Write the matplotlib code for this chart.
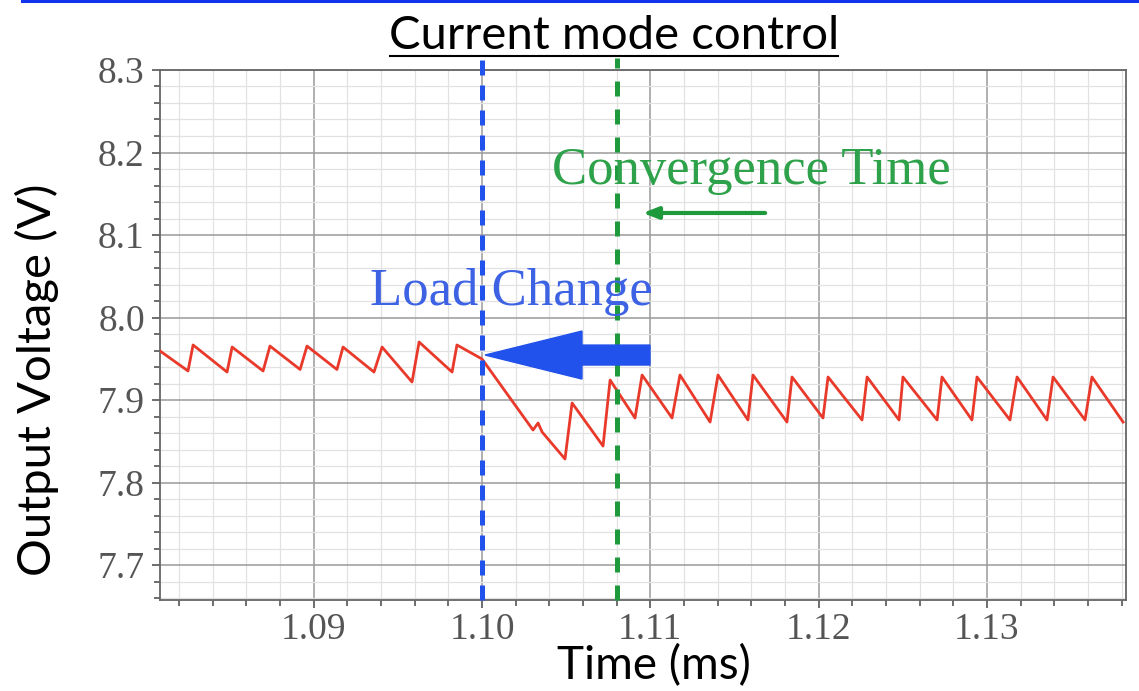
import matplotlib
matplotlib.use("Agg")
import matplotlib.pyplot as plt
from matplotlib.patches import FancyArrow
from matplotlib.lines import Line2D
from matplotlib.ticker import MultipleLocator

# output voltage waveform (time in ms, volts)
time_ms = [1.08087, 1.08253, 1.08283, 1.08485, 1.08515, 1.08699, 1.08740,
           1.08919, 1.08960, 1.09138, 1.09174, 1.09358, 1.09406, 1.09584,
           1.09626, 1.09822, 1.09851, 1.10000, 1.10303, 1.10333, 1.10357,
           1.10493, 1.10535, 1.10719, 1.10761, 1.10909, 1.10951, 1.11129,
           1.11176, 1.11355, 1.11402, 1.11580, 1.11610, 1.11812, 1.11842,
           1.12026, 1.12056, 1.12258, 1.12288, 1.12478, 1.12501, 1.12704,
           1.12733, 1.12911, 1.12941, 1.13137, 1.13179, 1.13357, 1.13393,
           1.13583, 1.13624, 1.13809]
volt = [7.9594, 7.9352, 7.9667, 7.9339, 7.9642, 7.9352, 7.9654,
        7.9370, 7.9654, 7.9370, 7.9642, 7.9339, 7.9642, 7.9218,
        7.9703, 7.9339, 7.9667, 7.9497, 7.8636, 7.8721, 7.8612,
        7.8285, 7.8964, 7.8442, 7.9242, 7.8782, 7.9303, 7.8782,
        7.9303, 7.8733, 7.9303, 7.8758, 7.9303, 7.8733, 7.9279,
        7.8782, 7.9279, 7.8758, 7.9279, 7.8758, 7.9279, 7.8758,
        7.9279, 7.8758, 7.9279, 7.8758, 7.9279, 7.8758, 7.9279,
        7.8758, 7.9279, 7.8733]

x_ticks = [1.09, 1.10, 1.11, 1.12, 1.13]
y_ticks = [7.7, 7.8, 7.9, 8.0, 8.1, 8.2, 8.3]
t_load = 1.100
t_conv = 1.108

RED = "#e8392a"; BLUE = "#2252ec"; GREEN = "#1e9a3c"
TXT_BLUE = "#3d63e4"; TXT_GREEN = "#2ea24a"; TICK = "#555555"

fig = plt.figure(figsize=(11.39, 6.91), dpi=100)
ax = fig.add_axes([0.1405, 0.1317, 0.8481, 0.7670])
ax.set_xlim(1.080867, 1.138265)
ax.set_ylim(7.6576, 8.3)

ax.xaxis.set_minor_locator(MultipleLocator(0.002))
ax.yaxis.set_minor_locator(MultipleLocator(0.02))
ax.set_xticks(x_ticks, [f"{v:.2f}" for v in x_ticks])
ax.set_yticks(y_ticks, [f"{v:.1f}" for v in y_ticks])
ax.grid(which="major", color="#9a9a9a", linewidth=1.1, zorder=0)
ax.grid(which="minor", color="#e2e2e2", linewidth=0.9, zorder=0)
ax.set_axisbelow(True)
for s in ax.spines.values():
    s.set_color("#666666"); s.set_linewidth(1.3)
ax.tick_params(which="both", direction="out", color="#555555", width=1.2)
ax.tick_params(which="major", length=6, labelsize=27, labelcolor=TICK)
ax.tick_params(axis="x", which="major", pad=3)
ax.tick_params(axis="y", which="major", pad=5)
ax.tick_params(which="minor", length=4)
for lab in ax.get_xticklabels() + ax.get_yticklabels():
    lab.set_family("Liberation Serif")

ax.plot(time_ms, volt, color=RED, linewidth=2.0, zorder=3)

# dashed markers run up past the frame, to just under the title
top_v = 8.315
ax.plot([t_load, t_load], [7.6576, top_v], color=BLUE, linewidth=3.6,
        dashes=(3, 2), clip_on=False, zorder=4)
ax.plot([t_conv, t_conv], [7.6576, top_v], color=GREEN, linewidth=3.6,
        dashes=(3, 2.6), clip_on=False, zorder=4)

ax.add_patch(FancyArrow(1.10998, 7.9545, 1.10018 - 1.10998, 0, width=0.0242,
                        head_width=0.0582, head_length=0.00576,
                        length_includes_head=True, color=BLUE, zorder=5))
ax.annotate("", xy=(1.10955, 8.1267), xytext=(1.11682, 8.1267),
            arrowprops=dict(arrowstyle="-|>,head_length=0.9,head_width=0.35",
                            color=GREEN, lw=3, shrinkA=0, shrinkB=0), zorder=5)

ax.text(1.11598, 8.1618, "Convergence Time", color=TXT_GREEN, fontsize=38,
        family="Liberation Serif", ha="center", va="baseline", zorder=6)
ax.text(1.10172, 8.0152, "Load Change", color=TXT_BLUE, fontsize=38,
        family="Liberation Serif", ha="center", va="baseline", zorder=6)

fig.text(0.539, 0.948, "Current mode control", fontsize=34, family="Lato",
         ha="center", va="center")
fig.add_artist(Line2D([390 / 1139, 838 / 1139], [1 - 56 / 691, 1 - 56 / 691],
                      color="black", linewidth=1.5))
fig.text(0.0325, 0.451, "Output Voltage (V)", fontsize=34, family="Lato",
         rotation=90, ha="center", va="center")
fig.text(0.574, 0.036, "Time (ms)", fontsize=33, family="Lato",
         ha="center", va="center")
fig.add_artist(Line2D([22 / 1139, 1.0], [1 - 1 / 691, 1 - 1 / 691],
                      color="#1233ee", linewidth=2.2))

fig.savefig("out.png", dpi=100)
